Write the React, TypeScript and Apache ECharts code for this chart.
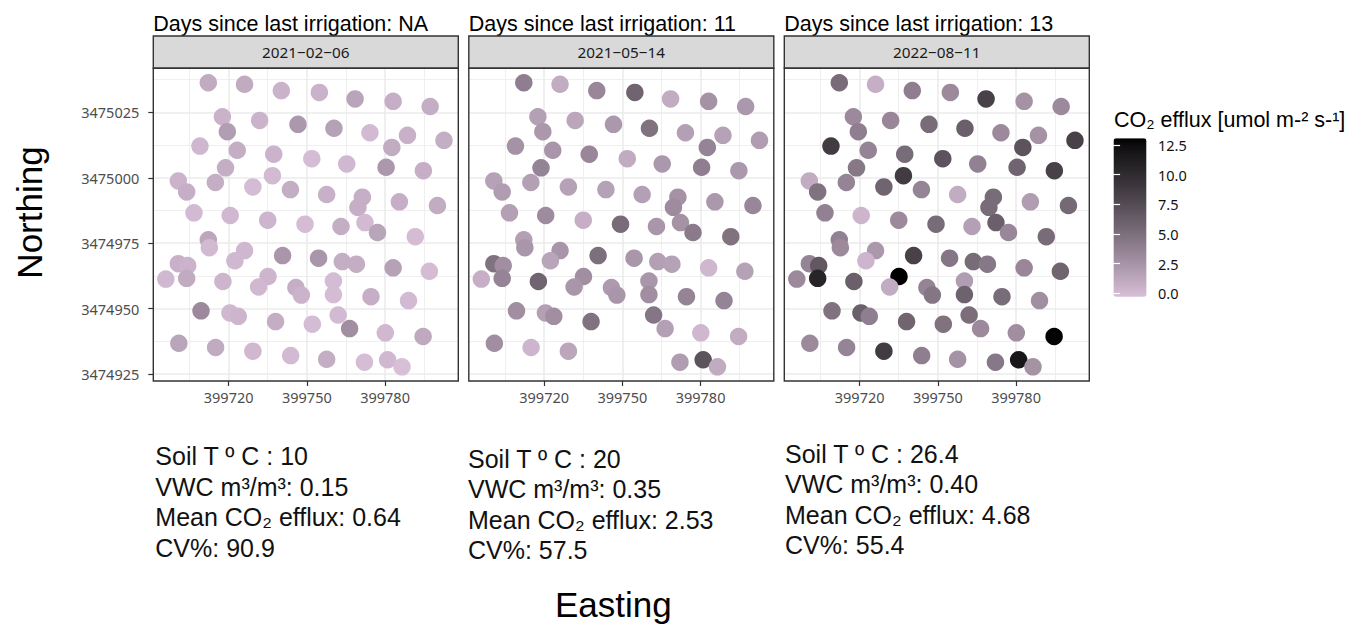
import React, { useEffect, useRef } from "react";
import * as echarts from "echarts";

// Sampling locations (UTM easting / northing, metres)
const EASTING = [
  399712.2, 399726.1, 399740.2, 399754.8, 399768.5, 399783.1, 399797.3, 399717.6, 399731.9, 399746.6,
  399760.4, 399719.5, 399774.2, 399788.6, 399802.6, 399709.0, 399723.3, 399737.3, 399782.6, 399751.9,
  399765.3, 399780.4, 399794.7, 399718.8, 399700.7, 399714.9, 399736.8, 399729.3, 399703.9, 399743.7,
  399757.6, 399771.3, 399769.6, 399785.5, 399800.1, 399706.7, 399720.6, 399735.0, 399749.3, 399763.1,
  399772.3, 399777.1, 399791.6, 399712.2, 399712.6, 399726.1, 399722.4, 399740.7, 399754.5, 399763.6,
  399769.0, 399783.1, 399797.0, 399700.7, 399704.3, 399695.9, 399703.9, 399717.8, 399735.1, 399731.5,
  399745.8, 399747.9, 399760.2, 399760.2, 399774.6, 399789.0, 399709.4, 399720.5, 399723.7, 399738.0,
  399752.1, 399762.0, 399766.4, 399780.1, 399794.6, 399700.9, 399715.0, 399729.3, 399743.8, 399757.6,
  399772.1, 399781.0, 399786.5,
];

const NORTHING = [
  3475036.3, 3475035.7, 3475033.3, 3475032.6, 3475030.1, 3475029.2, 3475027.2, 3475023.3, 3475021.9, 3475020.4,
  3475018.9, 3475017.6, 3475017.2, 3475016.2, 3475014.3, 3475012.1, 3475010.5, 3475009.0, 3475011.6, 3475007.3,
  3475005.3, 3475004.0, 3475002.7, 3475003.8, 3474998.8, 3474998.2, 3475000.8, 3474996.5, 3474994.6, 3474995.5,
  3474993.6, 3474992.6, 3474988.7, 3474990.8, 3474989.4, 3474986.6, 3474985.6, 3474983.8, 3474982.3, 3474981.4,
  3474982.9, 3474979.1, 3474977.5, 3474976.3, 3474973.3, 3474972.2, 3474968.3, 3474970.3, 3474969.3, 3474968.0,
  3474967.0, 3474965.6, 3474964.3, 3474967.2, 3474966.5, 3474961.3, 3474961.6, 3474960.4, 3474962.3, 3474958.3,
  3474958.1, 3474955.2, 3474960.6, 3474955.4, 3474954.6, 3474953.1, 3474949.2, 3474948.4, 3474947.1, 3474945.1,
  3474944.1, 3474947.6, 3474942.4, 3474940.8, 3474939.4, 3474936.8, 3474935.2, 3474933.8, 3474932.1, 3474930.7,
  3474929.6, 3474930.5, 3474927.8,
];

// CO2 efflux per location and campaign (umol m-2 s-1); null = not measured
const EFFLUX_FEB = [
  1.0, 1.0, 0.5, 0.5, 1.4, 0.7, 0.8, 0.5, 0.4, 2.2,
  1.6, 1.8, 0.0, 0.6, 0.8, 0.2, 0.8, 0.4, 0.9, -0.1,
  0.1, 2.2, 0.7, 0.8, 0.4, 0.8, 0.0, -0.1, 0.7, 0.8,
  0.6, 0.7, 0.7, 0.7, 0.9, 0.0, 0.1, 0.3, -0.1, 0.8,
  0.0, 1.4, -0.1, 1.3, 0.0, 0.2, 0.1, 2.3, 2.3, 0.8,
  0.8, 1.6, -0.1, 0.6, 0.4, 0.1, 1.0, 0.3, 0.3, 0.1,
  0.7, 0.4, -0.1, -0.1, 0.7, 0.0, 3.1, 0.1, 0.3, 0.8,
  -0.1, 0.0, 2.8, 0.1, 1.1, 1.4, 1.0, 0.1, 0.0, 0.8,
  -0.2, 0.1, -0.3,
];

const EFFLUX_MAY = [
  3.9, 0.9, 3.3, 5.7, 0.9, 2.6, 2.2, 1.7, 1.3, 2.2,
  4.8, 2.2, 1.7, 1.6, 1.9, 2.6, 2.4, 3.3, 3.5, 1.0,
  2.2, 3.9, 2.2, 3.5, 1.6, 1.7, null, 1.6, 1.9, 1.6,
  1.7, 2.6, 3.0, 2.2, 3.3, 1.7, 3.0, 0.7, 5.2, 2.3,
  2.6, 4.2, 4.8, 1.7, 2.3, 2.4, 1.4, 5.0, 2.3, 1.7,
  1.6, 0.2, 1.6, 4.8, 2.8, 0.7, 3.5, 5.7, 2.8, 2.3,
  2.1, 2.3, 2.3, 2.8, 3.5, 3.5, 2.8, 1.7, 2.8, 4.8,
  null, 4.5, 1.7, 0.2, 0.9, 2.8, 0.3, 1.3, null, null,
  1.9, 7.0, 1.0,
];

const EFFLUX_AUG = [
  5.2, 0.7, 3.9, 3.1, 8.3, 2.6, 3.1, 3.1, 3.3, 5.2,
  6.1, 3.9, 3.1, 2.6, 8.3, 8.7, 3.5, 5.2, 7.0, 7.0,
  3.7, 5.7, 8.3, 4.4, 0.9, 3.5, 8.7, 5.7, 4.8, 3.5,
  0.9, 5.2, 5.2, 1.9, 5.4, 3.7, 0.3, 3.1, 5.2, 1.7,
  6.1, 3.3, 5.2, 3.7, 3.1, 2.2, 0.3, 8.3, 4.5, 5.2,
  4.4, 3.3, 5.7, 3.5, 6.6, 3.1, 10.6, 6.1, 13.07, 0.9,
  3.5, 4.5, 1.9, 5.9, 5.2, 2.8, 4.8, 6.1, 3.9, 5.7,
  4.8, 5.1, 3.1, 2.8, 12.9, 3.1, 3.5, 8.7, 3.9, 2.6,
  4.4, 11.8, 2.6,
];

const SAMPLING_DATES = ["2021\u221202\u221206", "2021\u221205\u221214", "2022\u221208\u221211"];
const DAYS_SINCE_IRRIGATION = ["NA", "11", "13"];
const SOIL_TEMP = ["10", "20", "26.4"];
const VWC = ["0.15", "0.35", "0.40"];
const MEAN_EFFLUX = ["0.64", "2.53", "4.68"];
const CV_PERCENT = ["90.9", "57.5", "55.4"];

const X_TICKS = [399720, 399750, 399780];
const X_MINOR = [399705, 399735, 399765, 399795];
const Y_TICKS = [3474925, 3474950, 3474975, 3475000, 3475025];
const Y_MINOR = [3474937.5, 3474962.5, 3474987.5, 3475012.5, 3475037.5];
const LEGEND_TICKS = [0, 2.5, 5, 7.5, 10, 12.5];

const X_RANGE = [399691.1, 399808.1];
const Y_RANGE = [3474922.4, 3475041.8];
const EFFLUX_RANGE = [-0.3, 13.07];

// Layout (px)
const PANEL_LEFT = [153.3, 468.8, 784.3];
const PANEL_W = 305;
const PANEL_TOP = 68.3;
const PANEL_H = 312.7;
const STRIP_TOP = 36;
const STATS_X = [155.3, 468, 785];
const STATS_BASELINE = [465, 467.5, 462.5];
const STATS_STEP = 30.5;

const SANS = '"Liberation Sans", Arial, sans-serif';
const TICK_FONT = '"Noto Sans", "Open Sans", sans-serif';

// --- CIELAB interpolation between two colours (thistle -> black) ---
const WHITE = [0.95047, 1, 1.08883];
const EPS = 216 / 24389;
const KAPPA = 24389 / 27;
const toLinear = (c: number) => {
  const v = c / 255;
  return v <= 0.04045 ? v / 12.92 : Math.pow((v + 0.055) / 1.055, 2.4);
};
const fromLinear = (v: number) => {
  const c = v <= 0.0031308 ? 12.92 * v : 1.055 * Math.pow(v, 1 / 2.4) - 0.055;
  return Math.round(Math.min(1, Math.max(0, c)) * 255);
};
function hexToLab(hex: string): number[] {
  const h = hex.replace("#", "");
  const [r, g, b] = [0, 2, 4].map((i) => toLinear(parseInt(h.slice(i, i + 2), 16)));
  const xyz = [
    0.4124564 * r + 0.3575761 * g + 0.1804375 * b,
    0.2126729 * r + 0.7151522 * g + 0.072175 * b,
    0.0193339 * r + 0.119192 * g + 0.9503041 * b,
  ].map((v, i) => v / WHITE[i]);
  const f = xyz.map((t) => (t > EPS ? Math.cbrt(t) : (KAPPA * t + 16) / 116));
  return [116 * f[1] - 16, 500 * (f[0] - f[1]), 200 * (f[1] - f[2])];
}
function labToHex(lab: number[]): string {
  const [L, a, b] = lab;
  const fy = (L + 16) / 116;
  const fx = fy + a / 500;
  const fz = fy - b / 200;
  const inv = (t: number) => (t * t * t > EPS ? t * t * t : (116 * t - 16) / KAPPA);
  const X = inv(fx) * WHITE[0];
  const Y = (L > KAPPA * EPS ? fy * fy * fy : L / KAPPA) * WHITE[1];
  const Z = inv(fz) * WHITE[2];
  const r = 3.2404542 * X - 1.5371385 * Y - 0.4985314 * Z;
  const g = -0.969266 * X + 1.8760108 * Y + 0.041556 * Z;
  const bl = 0.0556434 * X - 0.2040259 * Y + 1.0572252 * Z;
  return "#" + [r, g, bl].map(fromLinear).map((v) => v.toString(16).padStart(2, "0")).join("");
}
function labRamp(lo: string, hi: string, n: number): string[] {
  const a = hexToLab(lo);
  const b = hexToLab(hi);
  const out: string[] = [];
  for (let i = 0; i < n; i++) {
    const t = i / (n - 1);
    out.push(labToHex(a.map((v, k) => v + (b[k] - v) * t)));
  }
  return out;
}

function buildOption() {
  const effluxSets = [EFFLUX_FEB, EFFLUX_MAY, EFFLUX_AUG];
  const grids: any[] = [];
  const xAxes: any[] = [];
  const yAxes: any[] = [];
  const series: any[] = [];
  const graphics: any[] = [];

  for (let i = 0; i < 3; i++) {
    grids.push({ left: PANEL_LEFT[i], top: PANEL_TOP, width: PANEL_W, height: PANEL_H });

    // major axis: ticks, labels, major grid lines
    xAxes.push({
      type: "value",
      gridIndex: i,
      min: X_RANGE[0],
      max: X_RANGE[1],
      axisLine: { show: false },
      axisTick: { show: true, length: 5, lineStyle: { color: "#333333", width: 1.2 }, customValues: X_TICKS },
      axisLabel: {
        show: true,
        customValues: X_TICKS,
        formatter: (v: number) => String(v),
        color: "#4D4D4D",
        fontSize: 14.5,
        fontFamily: TICK_FONT,
        margin: 8,
      },
      splitLine: { show: true, lineStyle: { color: "#EBEBEB", width: 1.6 } },
    });
    // minor grid lines
    xAxes.push({
      type: "value",
      gridIndex: i,
      min: X_RANGE[0],
      max: X_RANGE[1],
      axisLine: { show: false },
      axisTick: { show: false, customValues: X_MINOR },
      axisLabel: { show: false, customValues: X_MINOR },
      splitLine: { show: true, lineStyle: { color: "#EBEBEB", width: 0.8 } },
    });

    const firstPanel = i === 0;
    yAxes.push({
      type: "value",
      gridIndex: i,
      min: Y_RANGE[0],
      max: Y_RANGE[1],
      axisLine: { show: false },
      axisTick: {
        show: firstPanel,
        length: 5,
        lineStyle: { color: "#333333", width: 1.2 },
        customValues: Y_TICKS,
      },
      axisLabel: {
        show: firstPanel,
        customValues: Y_TICKS,
        formatter: (v: number) => String(v),
        color: "#4D4D4D",
        fontSize: 14.5,
        fontFamily: TICK_FONT,
        margin: 14,
      },
      splitLine: { show: true, lineStyle: { color: "#EBEBEB", width: 1.6 } },
    });
    yAxes.push({
      type: "value",
      gridIndex: i,
      min: Y_RANGE[0],
      max: Y_RANGE[1],
      axisLine: { show: false },
      axisTick: { show: false, customValues: Y_MINOR },
      axisLabel: { show: false, customValues: Y_MINOR },
      splitLine: { show: true, lineStyle: { color: "#EBEBEB", width: 0.8 } },
    });

    const values = effluxSets[i];
    const data: number[][] = [];
    for (let k = 0; k < EASTING.length; k++) {
      const v = values[k];
      if (v === null || v === undefined) continue;
      data.push([EASTING[k], NORTHING[k], v]);
    }
    series.push({
      type: "scatter",
      name: SAMPLING_DATES[i],
      xAxisIndex: 2 * i,
      yAxisIndex: 2 * i,
      symbol: "circle",
      symbolSize: 17.5,
      itemStyle: { opacity: 1 },
      silent: true,
      data,
    });

    const left = PANEL_LEFT[i];
    // facet title above strip
    graphics.push({
      type: "text",
      x: left,
      y: 24.2,
      style: {
        text: `Days since last irrigation: ${DAYS_SINCE_IRRIGATION[i]}`,
        fontSize: 21.5,
        fontFamily: SANS,
        fill: "#000000",
        align: "left",
        verticalAlign: "middle",
      },
    });
    // strip
    graphics.push({
      type: "rect",
      shape: { x: left, y: STRIP_TOP, width: PANEL_W, height: PANEL_TOP - STRIP_TOP },
      style: { fill: "#D9D9D9", stroke: "#333333", lineWidth: 1.4 },
      z: 50,
    });
    graphics.push({
      type: "text",
      x: left + PANEL_W / 2,
      y: (STRIP_TOP + PANEL_TOP) / 2 + 0.3,
      style: {
        text: SAMPLING_DATES[i],
        fontSize: 15.3,
        fontFamily: TICK_FONT,
        fill: "#1A1A1A",
        align: "center",
        verticalAlign: "middle",
      },
      z: 51,
    });
    // panel border
    graphics.push({
      type: "rect",
      shape: { x: left, y: PANEL_TOP, width: PANEL_W, height: PANEL_H },
      style: { fill: "transparent", stroke: "#333333", lineWidth: 1.4 },
      z: 50,
    });
    // summary text below each panel
    const lines = [
      `Soil T \u00BA C : ${SOIL_TEMP[i]}`,
      `VWC m\u00B3/m\u00B3: ${VWC[i]}`,
      `Mean CO\u2082 efflux: ${MEAN_EFFLUX[i]}`,
      `CV%: ${CV_PERCENT[i]}`,
    ];
    lines.forEach((t, j) => {
      graphics.push({
        type: "text",
        x: STATS_X[i],
        y: STATS_BASELINE[i] + j * STATS_STEP - 0.3465 * 25,
        style: { text: t, fontSize: 25, fontFamily: SANS, fill: "#111111", align: "left", verticalAlign: "middle" },
      });
    });
  }

  // axis titles
  graphics.push({
    type: "text",
    x: 613.3,
    y: 604,
    style: { text: "Easting", fontSize: 35, fontFamily: SANS, fill: "#000000", align: "center", verticalAlign: "middle" },
  });
  graphics.push({
    type: "text",
    x: 29.6,
    y: 212.5,
    rotation: Math.PI / 2,
    style: { text: "Northing", fontSize: 35, fontFamily: SANS, fill: "#000000", align: "center", verticalAlign: "middle" },
  });
  // colour legend title
  graphics.push({
    type: "text",
    x: 1114,
    y: 119.8,
    style: {
      text: "CO\u2082 efflux [umol m-\u00B2 s-\u00B9]",
      fontSize: 21.5,
      fontFamily: SANS,
      fill: "#000000",
      align: "left",
      verticalAlign: "middle",
    },
  });

  // colour-bar axis (tick marks + labels alongside the visualMap bar)
  const BAR = { left: 1113.5, top: 138.3, width: 33, height: 158.4 };
  grids.push({ left: BAR.left, top: BAR.top, width: BAR.width, height: BAR.height });
  xAxes.push({ type: "value", gridIndex: 3, show: false, min: 0, max: 1 });
  yAxes.push({
    type: "value",
    gridIndex: 3,
    position: "right",
    min: EFFLUX_RANGE[0],
    max: EFFLUX_RANGE[1],
    z: 10,
    axisLine: { show: false },
    axisTick: { show: true, inside: true, length: 6.6, lineStyle: { color: "#FFFFFF", width: 1.2 }, customValues: LEGEND_TICKS },
    axisLabel: {
      show: true,
      customValues: LEGEND_TICKS,
      formatter: (v: number) => v.toFixed(1),
      color: "#111111",
      fontSize: 14.5,
      fontFamily: TICK_FONT,
      margin: 11.5,
    },
    splitLine: { show: false },
  });
  yAxes.push({
    type: "value",
    gridIndex: 3,
    position: "left",
    min: EFFLUX_RANGE[0],
    max: EFFLUX_RANGE[1],
    z: 10,
    axisLine: { show: false },
    axisTick: { show: true, inside: true, length: 6.6, lineStyle: { color: "#FFFFFF", width: 1.2 }, customValues: LEGEND_TICKS },
    axisLabel: { show: false, customValues: LEGEND_TICKS },
    splitLine: { show: false },
  });

  return {
    animation: false,
    backgroundColor: "#FFFFFF",
    grid: grids,
    xAxis: xAxes,
    yAxis: yAxes,
    visualMap: {
      type: "continuous",
      min: EFFLUX_RANGE[0],
      max: EFFLUX_RANGE[1],
      dimension: 2,
      seriesIndex: [0, 1, 2],
      inRange: { color: labRamp("#D8BFD8", "#000000", 21) },
      show: true,
      calculable: false,
      hoverLink: false,
      orient: "vertical",
      left: BAR.left,
      top: BAR.top,
      itemWidth: BAR.width,
      itemHeight: BAR.height,
      padding: 0,
      z: 4,
    },
    series,
    graphic: graphics,
  };
}

export default function App() {
  const ref = useRef<HTMLDivElement>(null);
  useEffect(() => {
    if (!ref.current) return;
    const chart = echarts.init(ref.current, null, { renderer: "svg" });
    chart.setOption(buildOption() as any);
    return () => chart.dispose();
  }, []);
  return (
    <div
      ref={ref}
      style={{ position: "fixed", left: 0, top: 0, width: 1352, height: 624, background: "#FFFFFF" }}
    />
  );
}
